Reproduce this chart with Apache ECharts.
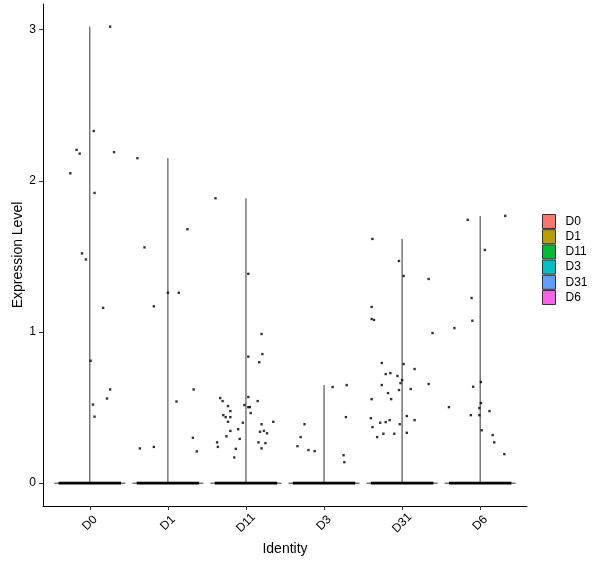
<!DOCTYPE html>
<html>
<head>
<meta charset="utf-8">
<script src="https://cdn.jsdelivr.net/npm/echarts@6/dist/echarts.min.js"></script>
<style>
html,body{margin:0;padding:0;background:#fff;}
#chart{width:600px;height:568px;}
</style>
</head>
<body>
<div id="chart"></div>
<script>
const categories = ['D0','D1','D11','D3','D31','D6'];
const colors = ['#F8766D','#B79F00','#00BA38','#00BFC4','#619CFF','#F564E3'];
const yTicks = [0,1,2,3];

const d0Values = [3.02,2.33,2.205,2.18,2.19,2.05,1.92,1.52,1.48,1.16,0.81,0.62,0.56,0.52,0.44];
const d0Jitter = [0.26,0.05,-0.17,-0.13,0.31,-0.25,0.06,-0.10,-0.05,0.17,0.01,0.26,0.22,0.04,0.06];

const d1Values = [2.15,1.68,1.56,1.26,1.26,1.17,0.62,0.54,0.30,0.23,0.24,0.21];
const d1Jitter = [-0.39,0.25,-0.30,0.00,0.14,-0.18,0.33,0.11,0.32,-0.36,-0.18,0.37];

const d11Values = [1.885,1.385,0.987,0.837,0.854,0.80,0.57,0.563,0.543,0.543,0.51,0.517,0.503,0.503,0.477,0.464,0.45,0.437,0.437,0.406,0.40,0.406,0.39,0.357,0.346,0.34,0.346,0.33,0.31,0.293,0.27,0.27,0.265,0.24,0.227,0.23,0.17];
const d11Jitter = [-0.39,0.03,0.20,0.03,0.21,0.17,0.03,-0.33,-0.30,0.15,-0.23,-0.02,0.03,0.05,-0.20,0.06,-0.29,-0.26,-0.20,-0.23,-0.04,0.35,0.20,-0.10,-0.20,0.18,0.23,0.27,-0.25,-0.08,-0.37,0.16,0.25,-0.36,-0.13,0.20,-0.15];

const d3Values = [0.649,0.636,0.437,0.39,0.305,0.245,0.219,0.212,0.185,0.139];
const d3Jitter = [0.29,0.11,0.28,-0.25,-0.30,-0.34,-0.20,-0.12,0.25,0.26];

const d31Values = [1.616,1.47,1.371,1.351,1.166,1.086,1.08,0.993,0.795,0.788,0.755,0.722,0.728,0.709,0.682,0.662,0.649,0.656,0.616,0.623,0.596,0.556,0.556,0.43,0.444,0.417,0.417,0.404,0.40,0.39,0.371,0.333,0.327,0.327,0.305];
const d31Jitter = [-0.38,-0.04,0.02,0.34,-0.39,-0.39,-0.36,0.39,-0.26,0.02,0.16,-0.21,-0.15,-0.06,0.00,-0.02,-0.26,0.34,-0.04,0.11,-0.18,-0.39,-0.14,-0.40,0.06,0.16,-0.16,-0.21,-0.28,-0.03,-0.38,0.06,-0.24,-0.10,-0.32];

const d6Values = [1.768,1.742,1.543,1.225,1.075,1.026,0.669,0.638,0.53,0.503,0.497,0.477,0.45,0.45,0.35,0.318,0.27,0.192];
const d6Jitter = [0.32,-0.16,0.06,-0.11,-0.10,-0.33,0.01,-0.09,0.01,-0.40,-0.01,0.12,-0.12,-0.01,0.02,0.16,0.18,0.31];

const groupValues = [d0Values,d1Values,d11Values,d3Values,d31Values,d6Values];
const groupJitter = [d0Jitter,d1Jitter,d11Jitter,d3Jitter,d31Jitter,d6Jitter];

const FONT = '"Liberation Sans", Arial, sans-serif';
const VIOLIN_HALF = 0.455;
const ZERO_BAND_HALF = 0.40;

const chart = echarts.init(document.getElementById('chart'), null, {renderer:'canvas'});

const violinSeries = categories.map(function(name, i){
  return {
    name: name,
    type: 'custom',
    itemStyle: {color: colors[i], borderColor:'#333', borderWidth:1},
    data: [[i+1, Math.max.apply(null, groupValues[i])]],
    silent: true,
    z: 2,
    renderItem: function(params, api){
      const cx = api.value(0), top = api.value(1);
      const p0 = api.coord([cx, 0]);
      const pt = api.coord([cx, top]);
      const pl = api.coord([cx - VIOLIN_HALF, 0]);
      const pr = api.coord([cx + VIOLIN_HALF, 0]);
      const bl = api.coord([cx - ZERO_BAND_HALF, 0]);
      const br = api.coord([cx + ZERO_BAND_HALF, 0]);
      return {
        type:'group',
        children:[
          {type:'line', shape:{x1:pl[0], y1:p0[1], x2:pr[0], y2:p0[1]}, style:{stroke:'#333', lineWidth:1}},
          {type:'line', shape:{x1:p0[0], y1:p0[1], x2:pt[0], y2:pt[1]}, style:{stroke:'#333', lineWidth:1}},
          {type:'rect', shape:{x:bl[0], y:p0[1]-1.3, width:br[0]-bl[0], height:2.6}, style:{fill:'#000'}}
        ]
      };
    }
  };
});

const pointData = [];
groupValues.forEach(function(vals, i){
  vals.forEach(function(v, j){ pointData.push([i+1+groupJitter[i][j], v]); });
});

const option = {
  animation:false,
  backgroundColor:'#fff',
  grid:{left:43, right:73, top:4, bottom:62, containLabel:false, outerBoundsMode:'none'},
  xAxis:{
    type:'value', min:0.4, max:6.6,
    name:'Identity', nameLocation:'middle', nameGap:36, nameMoveOverlap:false,
    nameTextStyle:{fontFamily:FONT, fontSize:14, color:'#000'},
    axisLine:{show:true, onZero:false, lineStyle:{color:'#000', width:1}},
    axisTick:{show:true, length:4, customValues:[1,2,3,4,5,6], lineStyle:{color:'#333'}},
    axisLabel:{
      customValues:[1,2,3,4,5,6],
      rotate:45, align:'center', verticalAlign:'middle', margin:17,
      fontFamily:FONT, fontSize:12, color:'#000',
      formatter:function(v){ return categories[Math.round(v)-1] || ''; }
    },
    splitLine:{show:false}
  },
  yAxis:{
    type:'value', min:-0.151, max:3.17,
    name:'Expression Level', nameLocation:'middle', nameGap:18, nameRotate:90, nameMoveOverlap:false,
    nameTextStyle:{fontFamily:FONT, fontSize:14, color:'#000'},
    axisLine:{show:true, onZero:false, lineStyle:{color:'#000', width:1}},
    axisTick:{show:true, length:4, customValues:yTicks, lineStyle:{color:'#333'}},
    axisLabel:{customValues:yTicks, margin:7, fontFamily:FONT, fontSize:12, color:'#000'},
    splitLine:{show:false}
  },
  legend:{
    orient:'vertical', left:542, top:214, padding:0,
    icon:'rect', itemWidth:13, itemHeight:14, itemGap:0.2,
    itemStyle:{borderColor:'#333', borderWidth:1},
    textStyle:{fontFamily:FONT, fontSize:12, lineHeight:14, color:'#000', padding:[0,0,0,5]},
    data:categories,
    selectedMode:false
  },
  series: violinSeries.concat([{
    name:'cells', type:'scatter', symbol:'rect', symbolSize:2.4,
    itemStyle:{color:'#000'}, data:pointData, silent:true, z:3
  }])
};
chart.setOption(option);
</script>
</body>
</html>
